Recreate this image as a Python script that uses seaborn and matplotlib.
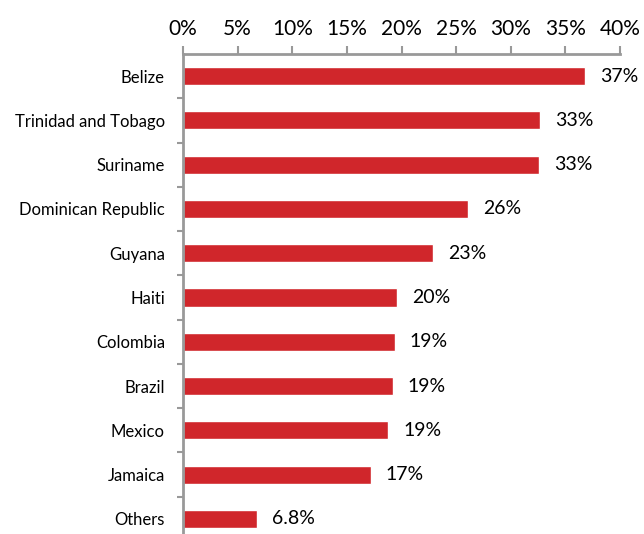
import matplotlib
matplotlib.use("Agg")
import matplotlib.pyplot as plt
from matplotlib.ticker import FixedLocator, PercentFormatter
import seaborn as sns
import pandas as pd

countries = ["Belize", "Trinidad and Tobago", "Suriname", "Dominican Republic",
             "Guyana", "Haiti", "Colombia", "Brazil", "Mexico", "Jamaica", "Others"]
shares = [36.8, 32.7, 32.6, 26.1, 22.9, 19.6, 19.4, 19.2, 18.8, 17.2, 6.8]
x_ticks = [0, 5, 10, 15, 20, 25, 30, 35, 40]

df = pd.DataFrame({"country": countries, "share": shares})

sns.set_theme(style="white")
plt.rcParams["font.family"] = ["Lato", "DejaVu Sans"]

W, H, DPI = 644, 534, 100
fig = plt.figure(figsize=(W / DPI, H / DPI), dpi=DPI)
left, right, top, bottom = 183, 620, 54, 541
ax = fig.add_axes([left / W, 1 - bottom / H, (right - left) / W, (bottom - top) / H])

bar_red = "#D0262B"
grey = "#999999"

sns.barplot(data=df, x="share", y="country", orient="h", color=bar_red,
            width=0.41, saturation=1, ax=ax)

ax.set_xlim(0, 40)
ax.set_ylim(len(countries) - 0.5, -0.5)
ax.xaxis.tick_top()
ax.xaxis.set_label_position("top")
ax.xaxis.set_major_locator(FixedLocator(x_ticks))
ax.xaxis.set_major_formatter(PercentFormatter(decimals=0))
ax.set_xlabel("")
ax.set_ylabel("")

for s in ["right", "bottom"]:
    ax.spines[s].set_visible(False)
for s in ["top", "left"]:
    ax.spines[s].set_color(grey)
    ax.spines[s].set_linewidth(2)

ax.tick_params(axis="x", which="major", top=True, bottom=False, direction="out",
               length=6, width=1.5, color=grey, labelsize=15, pad=4.5,
               labelcolor="black")
# category separators on the left spine
ax.set_yticks([i + 0.5 for i in range(len(countries) - 1)], minor=True)
ax.tick_params(axis="y", which="minor", left=True, direction="out",
               length=4, width=1.5, color=grey)
ax.tick_params(axis="y", which="major", left=False, length=0, labelsize=12,
               pad=13, labelcolor="black")

for i, v in enumerate(shares):
    ax.annotate(f"{v:.2g}%", xy=(v, i), xytext=(15, 0), textcoords="offset pixels",
                ha="left", va="center", fontsize=14, color="black",
                annotation_clip=False)

fig.savefig("out.png", dpi=DPI)
